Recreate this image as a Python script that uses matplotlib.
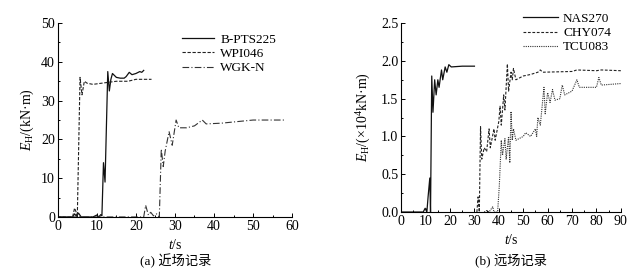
import matplotlib
matplotlib.use("Agg")
import matplotlib.pyplot as plt
from matplotlib.ticker import MultipleLocator

plt.rcParams['font.family'] = ['Liberation Serif', 'Noto Sans CJK SC']
plt.rcParams['mathtext.fontset'] = 'custom'
plt.rcParams['mathtext.rm'] = 'Liberation Serif'
plt.rcParams['mathtext.it'] = 'Liberation Serif:italic'

# (a) near-field records, kN·m
bpts_t = [0, 3.8, 4.3, 4.8, 5.3, 6, 9, 10, 10.5, 11, 11.3, 11.7, 12.1, 12.8, 13.2, 13.6, 14, 15, 16, 17, 17.5, 18.3, 19, 20, 21, 21.5, 22]
bpts_e = [0, 0, 0.8, 0.2, 1.0, 0, 0, 0.5, 0, 0.6, 0.3, 14, 9, 37.5, 32.5, 35.5, 37, 36, 35.8, 35.8, 36.2, 37.3, 36.7, 37, 37.5, 37.3, 37.8]
wpi_t = [0, 3.8, 4.3, 4.8, 5.0, 5.7, 6.2, 6.8, 7.5, 9, 12, 15, 18, 20, 24]
wpi_e = [0, 0, 2.3, 1.0, 0, 36, 31.5, 35, 34.5, 34.2, 34.6, 35, 35, 35.5, 35.5]
wgk_t = [0, 22, 22.5, 23.2, 23.8, 24.5, 25.3, 26, 26.5, 27, 27.5, 28.5, 29.3, 30.3, 31, 33, 35, 37, 38, 42, 45, 50, 58]
wgk_e = [0, 0, 3, 0.5, 1.2, 0.3, 0.8, 0, 17.5, 13, 17, 22, 18.5, 25, 23, 23, 23.5, 25, 24, 24.2, 24.5, 25, 25]

# (b) far-field records, x10^4 kN·m
nas_t = [0, 9, 9.8, 10.5, 11, 11.7, 12, 12.5, 13, 13.7, 14.3, 15, 15.5, 16.5, 17, 18, 18.7, 19.5, 20.5, 25, 30]
nas_e = [0, 0, 0.05, 0, 0.2, 0.45, 0, 1.8, 1.32, 1.75, 1.55, 1.75, 1.65, 1.88, 1.75, 1.92, 1.85, 1.95, 1.92, 1.93, 1.93]
chy_t = [31, 31.5, 32, 32.5, 33, 34, 35, 36, 36.5, 38, 38.5, 40, 40.5, 41, 42, 42.5, 43.5, 44, 45, 45.5, 46, 47, 50, 53, 56, 57, 58, 70, 72, 80, 82, 90]
chy_e = [0, 0.2, 0, 1.13, 0.7, 0.85, 0.8, 1.1, 0.85, 1.1, 0.95, 1.2, 1.4, 1.15, 1.55, 1.35, 1.96, 1.6, 1.85, 1.75, 1.9, 1.75, 1.8, 1.82, 1.85, 1.88, 1.85, 1.86, 1.88, 1.87, 1.88, 1.87]
tcu_t = [34, 35, 36, 37.5, 38, 39.5, 40.2, 41, 41.5, 42.5, 43, 44, 44.5, 45, 45.5, 46, 47, 50, 51, 53, 55, 55.5, 56, 57, 58.5, 59, 60, 61, 62, 63, 65, 66, 67, 70, 72, 73, 80, 81, 82, 90]
tcu_e = [0, 0.02, 0, 0.07, 0, 0, 0.35, 0.95, 0.75, 0.97, 0.7, 1.0, 0.65, 1.33, 0.95, 1.1, 0.95, 1.0, 1.05, 1.0, 1.1, 1.0, 1.25, 1.15, 1.65, 1.3, 1.58, 1.45, 1.62, 1.48, 1.5, 1.68, 1.55, 1.6, 1.75, 1.65, 1.65, 1.78, 1.68, 1.7]

fig = plt.figure(figsize=(6.42, 2.75), dpi=100)
ax1 = fig.add_axes([0.090, 0.211, 0.365, 0.705])
ax2 = fig.add_axes([0.625, 0.229, 0.342, 0.687])

ax1.plot(bpts_t, bpts_e, '-', color='#111111', lw=0.9, label='B-PTS225')
ax1.plot(wpi_t, wpi_e, '--', color='#222222', lw=0.8, dashes=(3, 1.5), label='WPI046')
ax1.plot(wgk_t, wgk_e, '-.', color='#333333', lw=0.8, dashes=(6, 2, 1, 2), label='WGK-N')
ax1.set_xlim(0, 60)
ax1.set_ylim(0, 50)
ax1.xaxis.set_major_locator(MultipleLocator(10))
ax1.xaxis.set_minor_locator(MultipleLocator(5))
ax1.yaxis.set_major_locator(MultipleLocator(10))
ax1.yaxis.set_minor_locator(MultipleLocator(5))
ax1.set_ylabel(r'$E_\mathrm{H}$/(kN·m)', fontsize=10, labelpad=4)
ax1.set_xlabel(r'$t$/s', fontsize=10, labelpad=4)
fig.text(0.273, 0.052, '(a) 近场记录', ha='center', va='center', fontsize=9.5)

ax2.plot(nas_t, nas_e, '-', color='#111111', lw=0.9, label='NAS270')
ax2.plot(chy_t, chy_e, '--', color='#222222', lw=0.8, dashes=(2.5, 1.5), label='CHY074')
ax2.plot(tcu_t, tcu_e, ':', color='#333333', lw=0.8, dashes=(1, 1), label='TCU083')
ax2.set_xlim(0, 90)
ax2.set_ylim(0, 2.5)
ax2.xaxis.set_major_locator(MultipleLocator(10))
ax2.xaxis.set_minor_locator(MultipleLocator(5))
ax2.yaxis.set_major_locator(MultipleLocator(0.5))
ax2.yaxis.set_minor_locator(MultipleLocator(0.25))
ax2.yaxis.set_major_formatter(plt.FormatStrFormatter('%.1f'))
ax2.set_ylabel(r'$E_\mathrm{H}$/(×10$^4$kN·m)', fontsize=10, labelpad=6)
ax2.set_xlabel(r'$t$/s', fontsize=10, labelpad=4)
fig.text(0.796, 0.052, '(b) 远场记录', ha='center', va='center', fontsize=9.5)

for ax in (ax1, ax2):
    ax.spines['top'].set_visible(False)
    ax.spines['right'].set_visible(False)
    ax.tick_params(which='both', direction='in', labelsize=10, pad=2, width=0.7)
    ax.tick_params(which='major', length=3)
    ax.tick_params(which='minor', length=1.5)
    for s in ('left', 'bottom'):
        ax.spines[s].set_linewidth(0.8)

ax1.legend(loc='upper right', bbox_to_anchor=(0.96, 0.98), frameon=False, fontsize=9.5,
           handlelength=2.4, handletextpad=0.5, labelspacing=0.15, borderaxespad=0.1)
ax2.legend(loc='upper right', bbox_to_anchor=(0.985, 1.09), frameon=False, fontsize=9.5,
           handlelength=2.6, handletextpad=0.4, labelspacing=0.15, borderaxespad=0.1)

fig.savefig('out.png', dpi=100)
